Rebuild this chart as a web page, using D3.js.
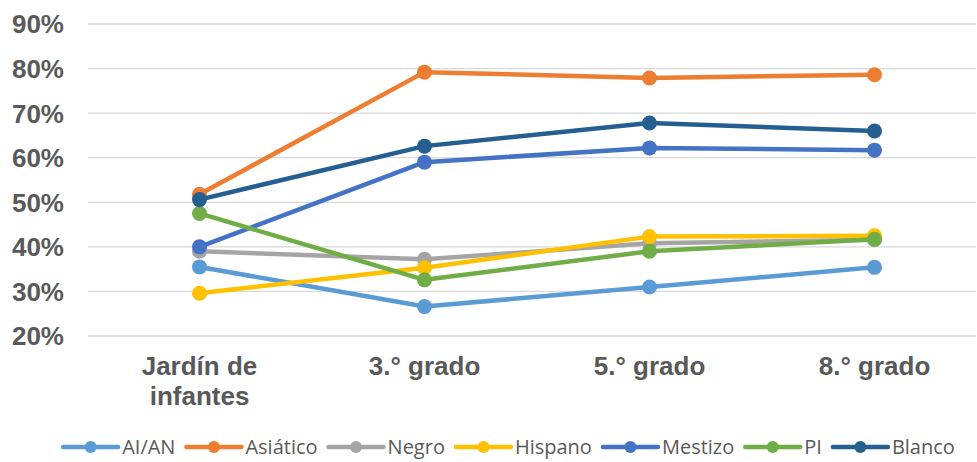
<!DOCTYPE html>
<html>
<head>
<meta charset="utf-8">
<script src="https://cdn.jsdelivr.net/npm/d3@7"></script>
<style>
  body { margin: 0; background: #fff; }
  svg { display: block; }
  .grid line { stroke: #d9d9d9; stroke-width: 1.3; }
  .tick-label { font-family: "Liberation Sans", Arial, sans-serif; font-weight: bold; font-size: 26px; fill: #595959; }
  .legend text { font-family: "Open Sans", sans-serif; font-size: 20px; fill: #595959; }
</style>
</head>
<body>
<svg id="chart"></svg>
<script>
(function () {
    const width = 977;
    const height = 462;

    // grades on the x axis (label lines)
    const grades = [["Jardín de", "infantes"], ["3.° grado"], ["5.° grado"], ["8.° grado"]];
    const yTicks = [20, 30, 40, 50, 60, 70, 80, 90];

    const seriesNames = ["AI/AN", "Asiático", "Negro", "Hispano", "Mestizo", "PI", "Blanco"];
    const seriesColors = ["#5b9bd5", "#ed7d31", "#a5a5a5", "#ffc000", "#4472c4", "#70ad47", "#255e91"];

    // percent values, one array per series
    const aian = [35.5, 26.6, 31.0, 35.4];
    const asiatico = [51.8, 79.2, 77.9, 78.6];
    const negro = [39.0, 37.2, 40.8, 41.6];
    const hispano = [29.6, 35.3, 42.3, 42.5];
    const mestizo = [40.0, 59.0, 62.2, 61.7];
    const pi = [47.5, 32.6, 39.0, 41.7];
    const blanco = [50.6, 62.6, 67.8, 66.0];
    const seriesValues = [aian, asiatico, negro, hispano, mestizo, pi, blanco];

    const svg = d3.select("#chart")
        .attr("width", width)
        .attr("height", height);

    const plotLeft = 88, plotRight = 976;

    const x = d3.scaleBand()
        .domain(d3.range(grades.length))
        .range([87, 987]);

    const y = d3.scaleLinear()
        .domain([20, 90])
        .range([336, 24]);

    const cx = i => x(i) + x.bandwidth() / 2;

    // gridlines
    svg.append("g")
        .attr("class", "grid")
        .selectAll("line")
        .data(yTicks)
        .enter()
        .append("line")
        .attr("x1", plotLeft)
        .attr("x2", plotRight)
        .attr("y1", d => y(d))
        .attr("y2", d => y(d));

    // y labels
    svg.append("g")
        .selectAll("text")
        .data(yTicks)
        .enter()
        .append("text")
        .attr("class", "tick-label")
        .attr("x", 64)
        .attr("y", d => y(d))
        .attr("dy", "0.36em")
        .attr("text-anchor", "end")
        .text(d => d + "%");

    // x labels
    const xl = svg.append("g")
        .selectAll("text")
        .data(grades)
        .enter()
        .append("text")
        .attr("class", "tick-label")
        .attr("text-anchor", "middle")
        .attr("x", (d, i) => cx(i))
        .attr("y", 375);
    xl.selectAll("tspan")
        .data(d => d)
        .enter()
        .append("tspan")
        .attr("x", function () { return d3.select(this.parentNode).attr("x"); })
        .attr("dy", (d, i) => i === 0 ? 0 : 30)
        .text(d => d);

    const line = d3.line()
        .x((d, i) => cx(i))
        .y(d => y(d));

    // series lines + markers, legend order so later ones sit on top
    seriesValues.forEach((vals, s) => {
        const g = svg.append("g");
        g.append("path")
            .datum(vals)
            .attr("fill", "none")
            .attr("stroke", seriesColors[s])
            .attr("stroke-width", 4.5)
            .attr("stroke-linejoin", "round")
            .attr("stroke-linecap", "round")
            .attr("d", line);
        g.selectAll("circle")
            .data(vals)
            .enter()
            .append("circle")
            .attr("cx", (d, i) => cx(i))
            .attr("cy", d => y(d))
            .attr("r", 7.5)
            .attr("fill", seriesColors[s]);
    });

    // legend
    const legend = svg.append("g").attr("class", "legend");
    const items = legend.selectAll("g")
        .data(seriesNames)
        .enter()
        .append("g");
    items.append("line")
        .attr("x1", 0).attr("x2", 55)
        .attr("y1", 0).attr("y2", 0)
        .attr("stroke", (d, i) => seriesColors[i])
        .attr("stroke-width", 4.5)
        .attr("stroke-linecap", "round");
    items.append("circle")
        .attr("cx", 27.5)
        .attr("r", 6)
        .attr("fill", (d, i) => seriesColors[i]);
    items.append("text")
        .attr("x", 59)
        .attr("dy", "0.35em")
        .text(d => d);

    let offset = 0;
    const offsets = [];
    items.each(function () {
        offsets.push(offset);
        const w = d3.select(this).select("text").node().getComputedTextLength();
        offset += 59 + w + 11;
    });
    const total = offset - 11;
    const start = 509 - total / 2;
    items.attr("transform", (d, i) => `translate(${start + offsets[i]},447)`);
})();
</script>
</body>
</html>
